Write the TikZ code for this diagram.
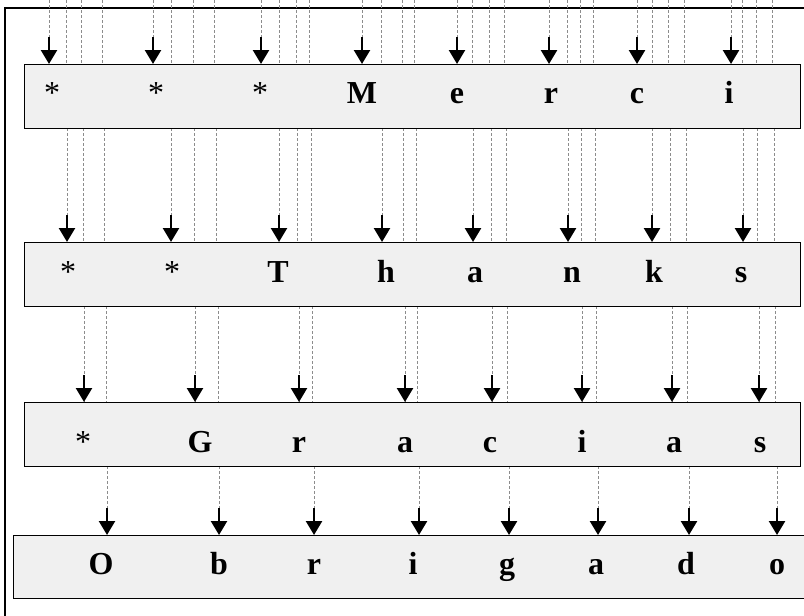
\documentclass[tikz,border=0pt]{standalone}
\usepackage{fontspec}
\setmainfont{Liberation Serif}
\usetikzlibrary{arrows.meta}
\definecolor{boxfill}{HTML}{F0F0F0}
\definecolor{dashgray}{HTML}{8C8C8C}
\tikzset{
  rowbox/.style={draw=black, line width=1.3pt, fill=boxfill, anchor=north west, inner sep=0pt},
  guide/.style={draw=dashgray, line width=0.8pt, dash pattern=on 3pt off 2pt},
  feed/.style={draw=black, line width=2.5pt, -{Triangle[width=16pt,length=14pt]}},
  letter/.style={font=\fontsize{32}{38}\selectfont\bfseries, anchor=base, inner sep=0pt},
  star/.style={font=\fontsize{32}{38}\selectfont, anchor=base, inner sep=0pt},
  frame/.style={draw=black, line width=1.3pt}
}
\begin{document}
\begin{tikzpicture}[x=1pt,y=-1pt]
\useasboundingbox (0,0) rectangle (804,616);
\clip (0,0) rectangle (804,616);
\draw[frame] (5,8) rectangle (840,650);
% dashed guide lines, gap by gap
\foreach \x in {49,66,81,102,153,171,193,214,261,279,296,309,362,381,402,414,457,472,489,504,549,567,580,593,637,652,668,684,731,742,756,772}
  \draw[guide] (\x,0) -- (\x,64);
\foreach \x in {67,83,104,171,194,216,279,297,311,382,403,416,473,491,506,568,581,595,652,670,686,743,757,774}
  \draw[guide] (\x,128) -- (\x,242);
\foreach \x in {84,106,195,218,299,312,405,417,492,507,582,596,672,687,759,775}
  \draw[guide] (\x,306) -- (\x,402);
\foreach \x in {107,219,314,419,509,598,689,777}
  \draw[guide] (\x,466) -- (\x,535);
% boxes
\node[rowbox, minimum width=776pt, minimum height=64pt] (box1) at (24,64) {};
\node[rowbox, minimum width=776pt, minimum height=64pt] (box2) at (24,242) {};
\node[rowbox, minimum width=776pt, minimum height=64pt] (box3) at (24,402) {};
\node[rowbox, minimum width=800pt, minimum height=63pt] (box4) at (13,535) {};
% row 1
\node[star]   (r1c1) at (52,103) {*};
\node[star]   (r1c2) at (156,103) {*};
\node[star]   (r1c3) at (260,103) {*};
\node[letter] (r1c4) at (362,103) {M};
\node[letter] (r1c5) at (457,103) {e};
\node[letter] (r1c6) at (551,103) {r};
\node[letter] (r1c7) at (637,103) {c};
\node[letter] (r1c8) at (729,103) {i};
% row 2
\node[star]   (r2c1) at (68,282) {*};
\node[star]   (r2c2) at (172,282) {*};
\node[letter] (r2c3) at (278,282) {T};
\node[letter] (r2c4) at (386,282) {h};
\node[letter] (r2c5) at (475,282) {a};
\node[letter] (r2c6) at (572,282) {n};
\node[letter] (r2c7) at (654,282) {k};
\node[letter] (r2c8) at (741,282) {s};
% row 3
\node[star]   (r3c1) at (83,452) {*};
\node[letter] (r3c2) at (200,452) {G};
\node[letter] (r3c3) at (299,452) {r};
\node[letter] (r3c4) at (405,452) {a};
\node[letter] (r3c5) at (490,452) {c};
\node[letter] (r3c6) at (582,452) {i};
\node[letter] (r3c7) at (674,452) {a};
\node[letter] (r3c8) at (760,452) {s};
% row 4
\node[letter] (r4c1) at (101,574) {O};
\node[letter] (r4c2) at (219,574) {b};
\node[letter] (r4c3) at (314,574) {r};
\node[letter] (r4c4) at (413,574) {i};
\node[letter] (r4c5) at (507,574) {g};
\node[letter] (r4c6) at (596,574) {a};
\node[letter] (r4c7) at (686,574) {d};
\node[letter] (r4c8) at (777,574) {o};
% arrows into each box
\foreach \x [count=\i] in {49,153,261,362,457,549,637,731} {
  \coordinate (s1-\i) at (\x,37);
  \draw[feed] (s1-\i) -- (s1-\i |- box1.north);
}
\foreach \x [count=\i] in {67,171,279,382,473,568,652,743} {
  \coordinate (s2-\i) at (\x,215);
  \draw[feed] (s2-\i) -- (s2-\i |- box2.north);
}
\foreach \x [count=\i] in {84,195,299,405,492,582,672,759} {
  \coordinate (s3-\i) at (\x,375);
  \draw[feed] (s3-\i) -- (s3-\i |- box3.north);
}
\foreach \x [count=\i] in {107,219,314,419,509,598,689,777} {
  \coordinate (s4-\i) at (\x,508);
  \draw[feed] (s4-\i) -- (s4-\i |- box4.north);
}
\end{tikzpicture}
\end{document}
